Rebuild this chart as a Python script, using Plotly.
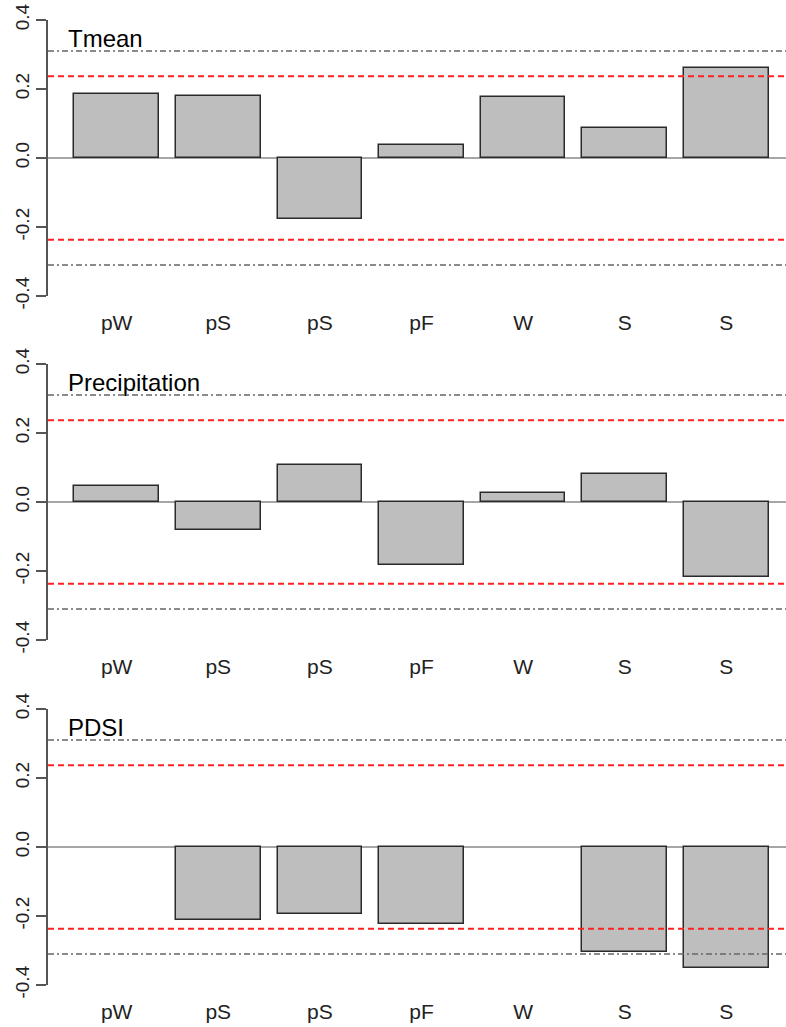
import plotly.graph_objects as go

# Seasonal windows (previous-year winter/spring/spring/fall, current winter/summer/summer)
seasons = ["pW", "pS", "pS", "pF", "W", "S", "S"]

# Correlation coefficients per climate variable
tmean = [0.185, 0.180, -0.178, 0.037, 0.176, 0.086, 0.261]
precipitation = [0.047, -0.080, 0.108, -0.182, 0.027, 0.082, -0.216]
pdsi = [None, -0.212, -0.195, -0.224, None, -0.303, -0.351]

panels = [("Tmean", tmean), ("Precipitation", precipitation), ("PDSI", pdsi)]

# Significance thresholds (95% and 99%)
sig95 = 0.237
sig99 = 0.310

W, H = 786, 1027
# pixel extents (top, bottom) of the -0.4..0.4 span in each panel
panel_px = [(20, 296), (364, 640), (709, 985)]
x_left_px = 48

# barplot-style positions: width 1, gap 0.2
centers = [0.7 + 1.2 * i for i in range(len(seasons))]
x_range = [-0.111, 8.605]

fig = go.Figure()
font_family = "Liberation Sans, Arial, sans-serif"

for k, (name, vals) in enumerate(panels):
    n = "" if k == 0 else str(k + 1)
    xa, ya = "x" + n, "y" + n
    top, bot = panel_px[k]
    fig.add_trace(go.Bar(
        x=centers, y=vals, width=1.0,
        marker=dict(color="#BEBEBE", line=dict(color="#2a2a2a", width=1.5)),
        xaxis=xa, yaxis=ya, showlegend=False, hoverinfo="skip",
    ))
    fig.layout["xaxis" + n] = dict(
        domain=[x_left_px / W, 1], range=x_range, anchor=ya, automargin=False,
        tickvals=centers, ticktext=seasons, showline=False, showgrid=False,
        zeroline=False, ticks="", tickfont=dict(size=21, color="#222222", family=font_family),
        ticklabelstandoff=12,
    )
    fig.layout["yaxis" + n] = dict(
        domain=[1 - bot / H, 1 - top / H], range=[-0.4, 0.4], anchor=xa, automargin=False,
        tickvals=[-0.4, -0.2, 0.0, 0.2, 0.4], ticktext=["-0.4", "-0.2", "0.0", "0.2", "0.4"],
        tickangle=-90, ticks="outside", ticklen=10, tickwidth=1.5, tickcolor="#555555",
        showline=True, linecolor="#555555", linewidth=1.5, showgrid=False, zeroline=False,
        tickfont=dict(size=19, color="#222222", family=font_family),
    )
    # zero line
    fig.add_shape(type="line", xref=xa + " domain", yref=ya, x0=0, x1=1, y0=0, y1=0,
                  line=dict(color="#888888", width=1.5), layer="below")
    # significance thresholds
    for s in (1, -1):
        fig.add_shape(type="line", xref=xa + " domain", yref=ya, x0=0, x1=1,
                      y0=s * sig95, y1=s * sig95,
                      line=dict(color="#ff2020", width=2, dash="6px,4px"))
        fig.add_shape(type="line", xref=xa + " domain", yref=ya, x0=0, x1=1,
                      y0=s * sig99, y1=s * sig99,
                      line=dict(color="#666666", width=1.6, dash="6px,3px,2px,3px"))
    fig.add_annotation(text=name, xref="paper", yref=ya, x=66 / W, y=0.347,
                       xanchor="left", yanchor="middle", showarrow=False,
                       font=dict(size=24, color="#000000", family=font_family))

fig.update_layout(
    width=W, height=H, margin=dict(l=0, r=0, t=0, b=0, autoexpand=False),
    paper_bgcolor="white", plot_bgcolor="white", bargap=0,
)

fig.write_html("out.html")
